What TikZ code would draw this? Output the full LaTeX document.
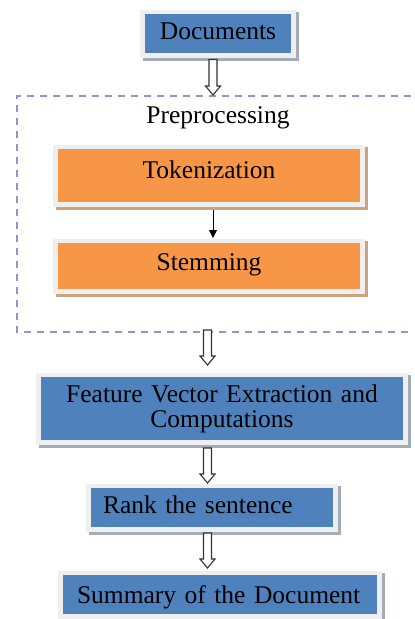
\documentclass[tikz,border=0pt]{standalone}
\usepackage{fontspec}
\setmainfont{Liberation Serif}
\usetikzlibrary{calc,arrows.meta,backgrounds}
\definecolor{boxblue}{HTML}{4F81BD}
\definecolor{boxorange}{HTML}{F79646}
\definecolor{framecol}{HTML}{EFEFEF}
\definecolor{blueshadow}{HTML}{A3ACB8}
\definecolor{orangeshadow}{HTML}{CFA27C}
\definecolor{dashcol}{HTML}{A18DC9}
\tikzset{
  boxbase/.style={inner sep=0pt, outer sep=0pt, anchor=north west, align=center,
    font=\fontsize{25.5}{25}\selectfont, text=black},
  bluebox/.style={boxbase, fill=boxblue},
  orangebox/.style={boxbase, fill=boxorange},
  blockarr/.style={draw=black!80, line width=1.1pt, fill=white, line join=miter},
  grouplabel/.style={font=\fontsize{25.5}{25}\selectfont, anchor=base, inner sep=0pt},
  grouplines/.style={draw=dashcol, line width=1.6pt, dash pattern=on 7pt off 6pt},
}
\newcommand\mydrawframe[2]{%
  \fill[#2] ($(#1.north west)+(-2,-2)$) rectangle ($(#1.south east)+(8,8)$);
  \fill[framecol] ($(#1.north west)+(-5,-4)$) rectangle ($(#1.south east)+(5,5)$);
}
\newcommand\myhollowarrow[2]{%
  \draw[blockarr] let \p1=(#1), \p2=(#2) in
    (\x1-4pt,\y1) -- (\x1+4pt,\y1) -- (\x1+4pt,\y2+9pt) -- (\x1+7.5pt,\y2+9pt)
    -- (\x1,\y2) -- (\x1-7.5pt,\y2+9pt) -- (\x1-4pt,\y2+9pt) -- cycle;
}
\begin{document}
\begin{tikzpicture}[x=1pt,y=-1pt]
\useasboundingbox (0,0) rectangle (415,619);

% group box (open at the right)
\coordinate (gtr) at (411,96);
\coordinate (gtl) at (17,96);
\coordinate (gbl) at (17,332);
\coordinate (gbr) at (411,332);
\draw[grouplines] (gtr) -- (gtl) -- (gbl) -- (gbr);
\node[grouplabel] (pre) at (218,123) {Preprocessing};
\coordinate (gin) at (213,95);
\coordinate (gout) at (207.5,330);

% boxes
\node[bluebox, text width=146pt, text height=25pt, text depth=14pt] (docs) at (145,14) {Documents};
\node[orangebox, text width=302pt, text height=29pt, text depth=24pt] (tok) at (58,149) {Tokenization};
\node[orangebox, text width=302pt, text height=27pt, text depth=19pt] (stem) at (58,243) {Stemming};
\node[bluebox, text width=362pt, minimum height=63pt] (feat) at (41,377) {Feature Vector Extraction and\\Computations};
\node[bluebox, text width=242pt, text height=25pt, text depth=14pt, align=left] (rank) at (91,488) {\hspace*{12pt}Rank the sentence};
\node[bluebox, text width=314pt, text height=28pt, text depth=11pt, align=left] (summ) at (63,575) {\hspace*{14pt}Summary of the Document};

\begin{scope}[on background layer]
  \fill[white] (0,0) rectangle (415,619);
  \mydrawframe{docs}{blueshadow}
  \mydrawframe{tok}{orangeshadow}
  \mydrawframe{stem}{orangeshadow}
  \mydrawframe{feat}{blueshadow}
  \mydrawframe{rank}{blueshadow}
  \mydrawframe{summ}{blueshadow}
\end{scope}

% connectors
\draw[line width=1pt, -{Triangle[width=8pt,length=8pt]}] ($(tok.south)+(4,8)$) -- ($(stem.north)+(4,-5)$);
\myhollowarrow{$(docs.south)+(-5,6.5)$}{gin}
\myhollowarrow{gout}{$(feat.north)+(-14.5,-12)$}
\myhollowarrow{$(feat.south)+(-14.5,8)$}{$(rank.north)+(-4.5,-5)$}
\myhollowarrow{$(rank.south)+(-4.5,6)$}{$(summ.north)+(-12.5,-7)$}
\end{tikzpicture}
\end{document}
